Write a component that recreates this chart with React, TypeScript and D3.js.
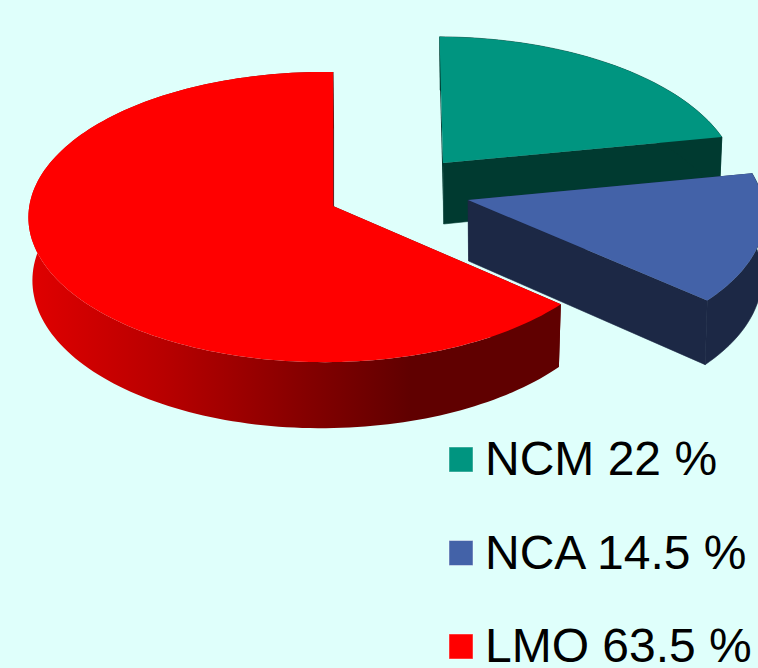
import React from "react";
import * as d3 from "d3";

const labels = ["NCM", "NCA", "LMO"];
const shares = [22, 14.5, 63.5];
const shareText = ["22 %", "14.5 %", "63.5 %"];
const topColors = ["#009580", "#4362a8", "#ff0000"];
const wallColors = ["#003a30", "#1c2845", "#600000"];

// How far each slice is pulled out of the pie, in pixels.
const explodeDx = [110, 135, 0];
const explodeDy = [-43, -6, 0];
// Perspective of each slice: depth foreshortening, sideways foreshortening, lean.
const depthPersp = [0.143, 0.076, 0.076];
const sidePersp = [0.01, 0, 0.0286];
const lean = [-4, -9, 0];
const thickness = [61, 61, 61];

const WIDTH = 758;
const HEIGHT = 668;
const BG = "#dffffb";

const cx = 333;
const cy = 206;
const rx = 295;
const rz = 144.2;
const shrink = 0.0112;
const vanishOffset = 52;

type Pt = [number, number];

// Projects a point of a slice's own disc (unit radius, x right, z away) onto the page.
function project(i: number, x: number, z: number, lower: boolean): Pt {
  const w = 1 + depthPersp[i] * z + sidePersp[i] * x;
  const tipX = cx + explodeDx[i];
  const tipY = cy + explodeDy[i];
  const sx = tipX + (rx * x + lean[i] * z) / w;
  const sy = tipY - (rz * z) / w;
  if (!lower) return [sx, sy];
  return [sx + (tipX + vanishOffset - sx) * shrink, sy + thickness[i] / w];
}

const pie = d3
  .pie<number>()
  .sort(null)
  .value((d) => d);
const arcs = pie(shares);

const line = d3.line<Pt>();

function rimAngles(a0: number, a1: number): number[] {
  const steps = Math.max(8, Math.ceil((a1 - a0) * 40));
  return d3.range(steps + 1).map((i) => a0 + ((a1 - a0) * i) / steps);
}

function App() {
  const slices = arcs.map((arc, i) => {
    const rim = (lower: boolean) =>
      rimAngles(arc.startAngle, arc.endAngle).map((t) =>
        project(i, Math.sin(t), Math.cos(t), lower)
      );
    const tip = (lower: boolean) => project(i, 0, 0, lower);
    const upper = rim(false);
    const bottom = rim(true);
    return {
      top: line([tip(false), ...upper]) + "Z",
      wall: line([...upper, ...bottom.slice().reverse()]) + "Z",
      startFace: line([tip(false), upper[0], bottom[0], tip(true)]) + "Z",
      endFace:
        line([
          tip(false),
          upper[upper.length - 1],
          bottom[bottom.length - 1],
          tip(true),
        ]) + "Z",
    };
  });

  const legendY = d3.scalePoint<string>().domain(labels).range([475, 662]);

  return (
    <svg
      width={WIDTH}
      height={HEIGHT}
      viewBox={`0 0 ${WIDTH} ${HEIGHT}`}
      style={{ position: "absolute", left: 0, top: 0, display: "block" }}
    >
      <defs>
        <linearGradient
          id="lmoWall"
          gradientUnits="userSpaceOnUse"
          x1={30}
          x2={410}
          y1={0}
          y2={0}
        >
          <stop offset="0" stopColor="#e00000" />
          <stop offset="0.35" stopColor="#b80000" />
          <stop offset="0.7" stopColor="#880000" />
          <stop offset="1" stopColor="#600000" />
        </linearGradient>
      </defs>
      <rect width={WIDTH} height={HEIGHT} fill={BG} />
      {slices.map((s, i) => (
        <g key={labels[i]}>
          <path d={s.startFace} fill={wallColors[i]} />
          <path
            d={s.endFace}
            fill={wallColors[i]}
            stroke={wallColors[i]}
            strokeWidth={0.6}
          />
          <path
            d={s.wall}
            fill={labels[i] === "LMO" ? "url(#lmoWall)" : wallColors[i]}
            stroke={labels[i] === "LMO" ? "none" : wallColors[i]}
            strokeWidth={0.6}
          />
          <path d={s.top} fill={topColors[i]} />
        </g>
      ))}
      {labels.map((name, i) => {
        const y = legendY(name) as number;
        return (
          <g key={name}>
            <rect
              x={449}
              y={y - 28}
              width={24}
              height={25}
              fill={topColors[i]}
              stroke="#ffffff"
              strokeOpacity={0.45}
              strokeWidth={1}
            />
            <text
              x={485}
              y={y}
              fontFamily="Liberation Sans"
              fontSize={48}
              fill="#000"
            >
              {`${name} ${shareText[i]}`}
            </text>
          </g>
        );
      })}
    </svg>
  );
}

export default App;
